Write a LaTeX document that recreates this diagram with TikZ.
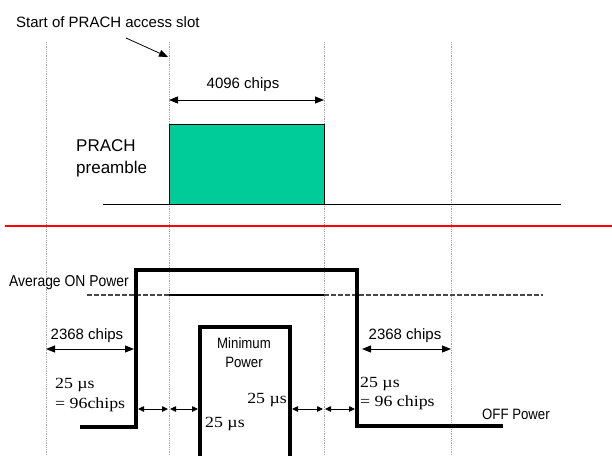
\documentclass[tikz,border=0pt]{standalone}
\usepackage{fontspec}
\setmainfont{Liberation Sans}
\newfontfamily\timesf[FakeStretch=1.15]{Liberation Serif}
\newfontfamily\narrowf[FakeStretch=0.88]{Liberation Sans}
\usetikzlibrary{arrows.meta}
\definecolor{pgreen}{HTML}{00CC99}
\definecolor{dgray}{HTML}{484848}
\begin{document}
\begin{tikzpicture}[x=1pt,y=-1pt,
  guide/.style={gray!70,densely dotted,line width=0.8pt},
  thick line/.style={line width=3.2pt},
  dimarrow/.style={{Triangle[length=9pt,width=7pt]}-{Triangle[length=9pt,width=7pt]},line width=0.9pt},
  smallarrow/.style={{Triangle[length=6pt,width=5.5pt]}-{Triangle[length=6pt,width=5.5pt]},line width=0.8pt},
  lbl/.style={font=\fontsize{15}{16}\selectfont,inner sep=0pt},
  nlbl/.style={font=\narrowf\fontsize{15}{16}\selectfont,inner sep=0pt},
  tlbl/.style={font=\timesf\fontsize{15.5}{16}\selectfont,inner sep=0pt},
  avgdash/.style={dgray,dash pattern=on 4.5pt off 2.5pt,line width=1.3pt}]
\useasboundingbox (0,0) rectangle (612,455);
% guides
\foreach \n/\x in {g1/46,g2/169,g3/324,g4/451}{
  \coordinate (\n t) at (\x,42);
  \coordinate (\n b) at (\x,455);
  \draw[guide] (\n t) -- (\n b);
}
% start label
\node[lbl,anchor=base west] (start) at (16,27) {Start of PRACH access slot};
\coordinate (sa) at (126,38);
\coordinate (sb) at (168,57);
\draw[-{Triangle[length=9pt,width=7pt]},line width=0.8pt] (sa) -- (sb);
% 4096 chips
\node[lbl,anchor=base] (c4096) at (243,88) {4096 chips};
\coordinate (da) at (169,100);
\coordinate (db) at (324,100);
\draw[dimarrow] (da) -- (db);
% green preamble
\node[draw=black,line width=0.6pt,fill=pgreen,minimum width=155pt,minimum height=80pt,anchor=north west,inner sep=0pt] (pre) at (169,124) {};
\coordinate (bl) at (103,204.5);
\coordinate (br) at (561,204.5);
\draw[line width=1.3pt] (bl) -- (br);
\node[font=\fontsize{17}{18}\selectfont,anchor=base west,inner sep=0pt] (prach) at (76,151) {PRACH};
\node[font=\fontsize{17}{18}\selectfont,anchor=base west,inner sep=0pt] (preamb) at (76,173) {preamble};
% red line
\coordinate (ra) at (5,226);
\coordinate (rb) at (612,226);
\draw[red,line width=1.3pt] (ra) -- (rb);
% average on power
\node[nlbl,font=\narrowf\fontsize{15.8}{16}\selectfont,anchor=base west] (avg) at (9,286) {Average ON Power};
\coordinate (av1) at (87,295);
\coordinate (av2) at (169,295);
\coordinate (av3) at (324,295);
\coordinate (av4) at (543,295);
\draw[avgdash] (av1) -- (av2);
\draw[black,line width=1.3pt] (av2) -- (av3);
\draw[avgdash] (av3) -- (av4);
% power waveform
\coordinate (p1) at (80,427);
\coordinate (p2) at (136,427);
\coordinate (p3) at (136,270);
\coordinate (p4) at (357,270);
\coordinate (p5) at (357,426);
\coordinate (p6) at (503,426);
\draw[thick line] (p1) -- (p2) -- (p3) -- (p4) -- (p5) -- (p6);
% minimum power
\coordinate (m1) at (200,458);
\coordinate (m2) at (200,327);
\coordinate (m3) at (290,327);
\coordinate (m4) at (290,458);
\draw[thick line] (m1) -- (m2) -- (m3) -- (m4);
\node[nlbl,anchor=base] (minp1) at (244,348) {Minimum};
\node[nlbl,anchor=base] (minp2) at (244,367) {Power};
% 2368 chips left
\node[lbl,anchor=base] (cl) at (87,339) {2368 chips};
\coordinate (l1) at (46,349);
\coordinate (l2) at (134,349);
\draw[dimarrow] (l1) -- (l2);
\node[tlbl,anchor=base west] (tl1) at (55,388) {25 µs};
\node[tlbl,anchor=base west] (tl2) at (55,408) {= 96chips};
% 2368 chips right
\node[lbl,anchor=base] (cr) at (405,339) {2368 chips};
\coordinate (r1) at (362,349);
\coordinate (r2) at (451,349);
\draw[dimarrow] (r1) -- (r2);
\node[tlbl,anchor=base west] (tr1) at (360,387) {25 µs};
\node[tlbl,anchor=base west] (tr2) at (360,406) {= 96 chips};
% small arrows
\coordinate (s1) at (138,409);
\coordinate (s2) at (168,409);
\coordinate (s3) at (170,409);
\coordinate (s4) at (198,409);
\coordinate (s5) at (292,409);
\coordinate (s6) at (323,409);
\coordinate (s7) at (325,409);
\coordinate (s8) at (355,409);
\draw[smallarrow] (s1) -- (s2);
\draw[smallarrow] (s3) -- (s4);
\draw[smallarrow] (s5) -- (s6);
\draw[smallarrow] (s7) -- (s8);
\node[tlbl,anchor=base east] (u1) at (287,403) {25 µs};
\node[tlbl,anchor=base west] (u2) at (205,427) {25 µs};
% off power
\node[nlbl,anchor=base west] (off) at (482,419) {OFF Power};
\end{tikzpicture}
\end{document}
